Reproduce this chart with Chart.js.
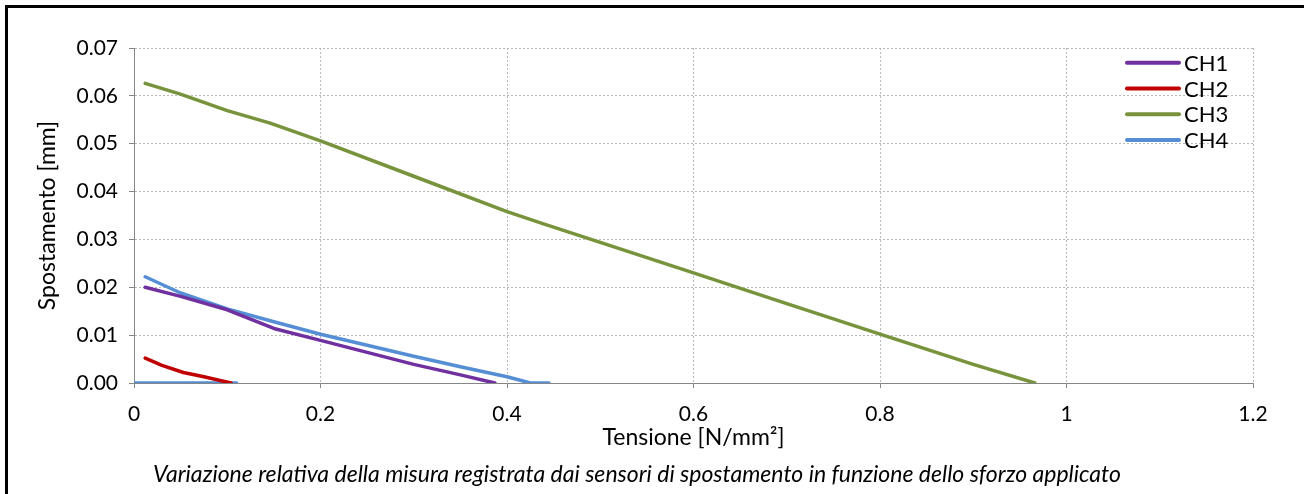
<!DOCTYPE html>
<html>
<head>
<meta charset="utf-8">
<script src="https://cdn.jsdelivr.net/npm/chart.js@4/dist/chart.umd.min.js"></script>
<style>
  html, body { margin: 0; padding: 0; background: #fff; overflow: hidden; }
  #wrap { position: relative; width: 1304px; height: 494px; }
  #frameLeft { position: absolute; left: 5px; top: 5px; width: 3px; height: 489px; background: #000; }
  #frameTop { position: absolute; left: 5px; top: 5px; right: 0; height: 3px; background: #000; }
</style>
</head>
<body>
<div id="wrap">
  <canvas id="myChart" width="1304" height="494"></canvas>
  <div id="frameLeft"></div>
  <div id="frameTop"></div>
</div>
<script>
"use strict";

// Data
const seriesLabels = ["CH1", "CH2", "CH3", "CH4"];
const seriesColors = ["#7030A0", "#C00000", "#77933C", "#558ED5"];

const ch1X = [0.012, 0.05, 0.1, 0.15, 0.2, 0.25, 0.3, 0.35, 0.387];
const ch1Y = [0.0200, 0.0181, 0.0153, 0.0114, 0.0089, 0.0064, 0.0039, 0.0017, 0.0];

const ch2X = [0.012, 0.03, 0.053, 0.075, 0.104];
const ch2Y = [0.0052, 0.0037, 0.0022, 0.0013, 0.0];

const ch3X = [0.012, 0.049, 0.1, 0.146, 0.2, 0.3, 0.4, 0.44, 0.5, 0.6, 0.7, 0.8, 0.9, 0.966];
const ch3Y = [0.0626, 0.0604, 0.0569, 0.0543, 0.0506, 0.0432, 0.0358, 0.0332, 0.0294, 0.023, 0.0166, 0.0102, 0.0039, 0.0];

// CH4 has a short flat piece on the zero line, then the sloped curve
const ch4X = [0.0, 0.11, null, 0.012, 0.05, 0.1, 0.15, 0.2, 0.25, 0.3, 0.35, 0.4, 0.425, 0.445];
const ch4Y = [0.0, 0.0, null, 0.0222, 0.0188, 0.0155, 0.0128, 0.0102, 0.0079, 0.0056, 0.0034, 0.0013, 0.0, 0.0];

const xTicks = [0, 0.2, 0.4, 0.6, 0.8, 1, 1.2];
const yTicks = [0, 0.01, 0.02, 0.03, 0.04, 0.05, 0.06, 0.07];

const FONT = "Lato, 'Open Sans', sans-serif";

function toPoints(xs, ys) {
	return xs.map((x, i) => (x === null ? { x: 0.11, y: null } : { x: x, y: ys[i] }));
}

const allX = [ch1X, ch2X, ch3X, ch4X];
const allY = [ch1Y, ch2Y, ch3Y, ch4Y];

const datasets = seriesLabels.map(function (label, i) {
	return {
		label: label,
		data: toPoints(allX[i], allY[i]),
		borderColor: seriesColors[i],
		backgroundColor: seriesColors[i],
		borderWidth: 3.5,
		pointRadius: 0,
		tension: 0,
		spanGaps: false,
		borderCapStyle: "round",
		borderJoinStyle: "round",
	};
});

// Legend drawn inside the plot area, top right, without a box
const insideLegend = {
	id: "insideLegend",
	afterDraw(chart) {
		const { ctx, chartArea } = chart;
		ctx.save();
		ctx.font = "22px " + FONT;
		ctx.textBaseline = "middle";
		ctx.textAlign = "left";
		chart.data.datasets.forEach(function (ds, i) {
			const y = chartArea.top + 14.7 + i * 25.8;
			const x0 = chartArea.right - 126;
			const x1 = chartArea.right - 74;
			ctx.strokeStyle = ds.borderColor;
			ctx.lineWidth = 4;
			ctx.lineCap = "round";
			ctx.beginPath();
			ctx.moveTo(x0, y);
			ctx.lineTo(x1, y);
			ctx.stroke();
			ctx.fillStyle = "#000";
			ctx.fillText(ds.label, chartArea.right - 69, y + 1);
		});
		ctx.restore();
	},
};

const gridCommon = {
	color: "#b8b8b8",
	lineWidth: 1,
	drawTicks: true,
	tickLength: 5,
	tickColor: "#868686",
	tickBorderDash: [],
	tickWidth: 1,
};

// in v4 border.dash styles the grid lines, the axis line itself stays solid
const borderCommon = { display: true, color: "#868686", width: 1, dash: [2, 2] };

new Chart(document.getElementById("myChart"), {
	type: "line",
	data: { datasets: datasets },
	plugins: [insideLegend],
	options: {
		responsive: false,
		animation: false,
		events: [],
		layout: { padding: { left: 21, right: 51, top: 48, bottom: 0 } },
		plugins: {
			legend: { display: false },
			tooltip: { enabled: false },
			title: {
				display: true,
				position: "bottom",
				text: "Variazione relativa della misura registrata dai sensori di spostamento in funzione dello sforzo applicato",
				color: "#000",
				font: { family: FONT, size: 23, style: "italic", weight: "normal", lineHeight: 1 },
				padding: { top: 12, bottom: 8 },
			},
		},
		scales: {
			x: {
				type: "linear",
				min: xTicks[0],
				max: xTicks[xTicks.length - 1],
				afterBuildTicks(scale) {
					scale.ticks = xTicks.map((v) => ({ value: v }));
				},
				afterFit(scale) {
					scale.height = 68;
				},
				grid: gridCommon,
				border: borderCommon,
				ticks: {
					color: "#000",
					font: { family: FONT, size: 21 },
					padding: 14,
					maxRotation: 0,
					callback: (v) => String(+v.toFixed(1)),
				},
				title: {
					display: true,
					text: "Tensione [N/mm²]",
					color: "#000",
					font: { family: FONT, size: 23 },
					padding: { top: 0, bottom: 0 },
				},
			},
			y: {
				type: "linear",
				min: yTicks[0],
				max: yTicks[yTicks.length - 1],
				afterBuildTicks(scale) {
					scale.ticks = yTicks.map((v) => ({ value: v }));
				},
				afterFit(scale) {
					scale.width = 113;
				},
				grid: gridCommon,
				border: borderCommon,
				ticks: {
					color: "#000",
					font: { family: FONT, size: 21 },
					padding: 11,
					callback: (v) => v.toFixed(2),
				},
				title: {
					display: true,
					text: "Spostamento [mm]",
					color: "#000",
					font: { family: FONT, size: 23 },
					padding: { top: 13, bottom: 0 },
				},
			},
		},
	},
});
</script>
</body>
</html>
